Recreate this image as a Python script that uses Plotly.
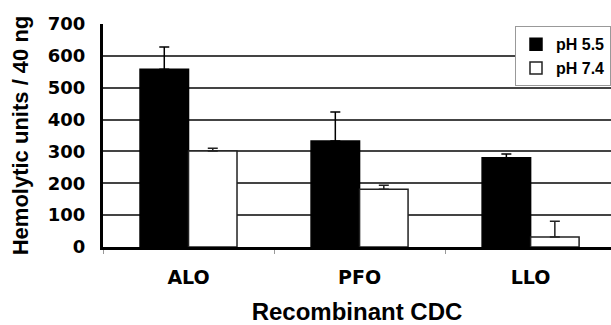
import plotly.graph_objects as go

categories = ["ALO", "PFO", "LLO"]
ph55_values = [558, 333, 280]
ph55_errors = [70, 91, 12]
ph74_values = [301, 181, 31]
ph74_errors = [9, 13, 50]
y_ticks = [0, 100, 200, 300, 400, 500, 600, 700]

fig = go.Figure()
fig.add_trace(go.Bar(
    name="pH 5.5", x=categories, y=ph55_values,
    marker=dict(color="black", line=dict(color="black", width=1.5)),
    error_y=dict(type="data", symmetric=False, array=ph55_errors,
                 arrayminus=[0] * len(ph55_errors), thickness=1.5, width=5, color="black"),
))
fig.add_trace(go.Bar(
    name="pH 7.4", x=categories, y=ph74_values,
    marker=dict(color="white", line=dict(color="#222", width=1.5)),
    error_y=dict(type="data", symmetric=False, array=ph74_errors,
                 arrayminus=[0] * len(ph74_errors), thickness=1.5, width=5, color="#222"),
))

fig.update_layout(
    width=611, height=325,
    margin=dict(l=103, r=0, t=24, b=78, autoexpand=False),
    paper_bgcolor="white", plot_bgcolor="white",
    barmode="group", bargap=0.433, bargroupgap=0,
    showlegend=True,
    legend=dict(
        x=1.0, y=0.99, xanchor="right", yanchor="top",
        bgcolor="white", bordercolor="#999", borderwidth=1,
        font=dict(family="Liberation Sans", size=16, color="black", weight="bold"),
        itemwidth=30, tracegroupgap=0,
    ),
    xaxis=dict(
        type="category", range=[-0.5, 2.47], automargin=False,
        showline=True, linecolor="black", linewidth=3,
        ticks="outside", tickson="boundaries", ticklen=4, tickcolor="#999",
        tickfont=dict(family="DejaVu Sans", size=19, color="black", weight="bold"),
        ticklabelstandoff=11,
        title=dict(text="Recombinant CDC",
                   font=dict(family="Liberation Sans", size=24, color="black", weight="bold"),
                   standoff=31),
        showgrid=False,
    ),
    yaxis=dict(
        range=[0, 700], tickvals=y_ticks, automargin=False,
        showline=True, linecolor="black", linewidth=3,
        showgrid=True, gridcolor="#444", gridwidth=1.5,
        zeroline=False,
        ticks="", tickfont=dict(family="DejaVu Sans", size=18, color="black", weight="bold"),
        ticklabelstandoff=11,
        title=dict(text="Hemolytic units / 40 ng",
                   font=dict(family="Liberation Sans", size=22, color="black", weight="bold"),
                   standoff=14),
    ),
)

fig.write_html(
    "out.html",
    config={"displayModeBar": False},
    post_script="document.body.style.margin='0';document.body.style.overflow='hidden';",
)
